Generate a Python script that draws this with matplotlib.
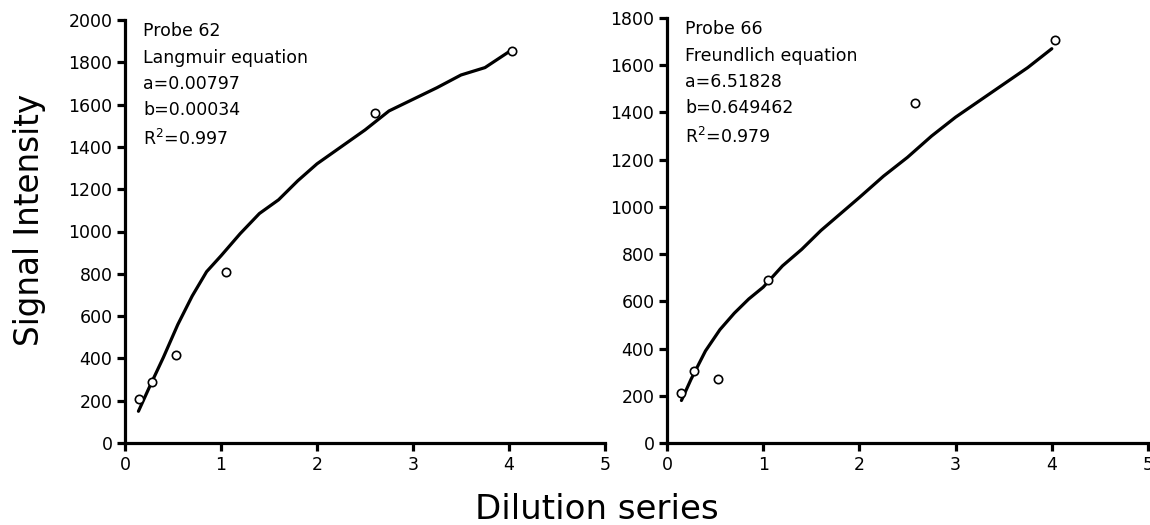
import matplotlib
matplotlib.use("Agg")
import matplotlib.pyplot as plt

plt.rcParams['font.family'] = ['DejaVu Sans']

# Probe 62 (Langmuir)
p62_x = [0.15, 0.28, 0.53, 1.05, 2.60, 4.03]
p62_y = [210, 290, 415, 810, 1560, 1855]
fit62_x = [0.14, 0.25, 0.4, 0.55, 0.7, 0.85, 1.0, 1.2, 1.4, 1.6, 1.8, 2.0, 2.25, 2.5, 2.75, 3.0, 3.25, 3.5, 3.75, 4.0]
fit62_y = [150, 260, 405, 560, 695, 810, 885, 990, 1085, 1150, 1240, 1320, 1400, 1480, 1570, 1625, 1680, 1740, 1775, 1850]

# Probe 66 (Freundlich)
p66_x = [0.15, 0.28, 0.53, 1.05, 2.58, 4.03]
p66_y = [210, 305, 270, 690, 1440, 1705]
fit66_x = [0.15, 0.25, 0.4, 0.55, 0.7, 0.85, 1.0, 1.2, 1.4, 1.6, 1.8, 2.0, 2.25, 2.5, 2.75, 3.0, 3.25, 3.5, 3.75, 4.0]
fit66_y = [180, 270, 390, 480, 550, 610, 660, 750, 820, 900, 970, 1040, 1130, 1210, 1300, 1380, 1450, 1520, 1590, 1670]

text62 = "Probe 62\nLangmuir equation\na=0.00797\nb=0.00034\nR$^2$=0.997"
text66 = "Probe 66\nFreundlich equation\na=6.51828\nb=0.649462\nR$^2$=0.979"

fig = plt.figure(figsize=(11.5, 5.25), dpi=100)
ax1 = fig.add_axes([125/1150, 1-443/525, 480/1150, 423/525])
ax2 = fig.add_axes([667/1150, 1-443/525, 481/1150, 425/525])

def style(ax, ymax, ystep):
    for s in ['top', 'right']:
        ax.spines[s].set_visible(False)
    for s in ['left', 'bottom']:
        ax.spines[s].set_linewidth(2.3)
    ax.set_xlim(0, 5)
    ax.set_ylim(0, ymax)
    ax.set_xticks(range(0, 6))
    ax.set_yticks(range(0, ymax + 1, ystep))
    ax.tick_params(direction='out', length=6, width=2.3, labelsize=12.5, pad=3)
    for lab in ax.get_xticklabels() + ax.get_yticklabels():
        lab.set_clip_on(False)

for ax, fx, fy, px, py, txt, ymax in [
    (ax1, fit62_x, fit62_y, p62_x, p62_y, text62, 2000),
    (ax2, fit66_x, fit66_y, p66_x, p66_y, text66, 1800),
]:
    style(ax, ymax, 200)
    ax.plot(fx, fy, color='black', lw=2.3, solid_capstyle='round', zorder=2)
    ax.plot(px, py, linestyle='none', marker='o', markersize=6,
            markerfacecolor='white', markeredgecolor='black', markeredgewidth=1.2, zorder=3)
    ax.text(0.038, 0.995, txt, transform=ax.transAxes, ha='left', va='top',
            fontsize=12.5, linespacing=1.6)

fig.text(30/1150, 1-220/525, "Signal Intensity", rotation=90, ha='center', va='center', fontsize=23.5)
fig.text(597/1150, 1-519/525, "Dilution series", ha='center', va='baseline', fontsize=24.5)

fig.savefig("out.png", dpi=100)
